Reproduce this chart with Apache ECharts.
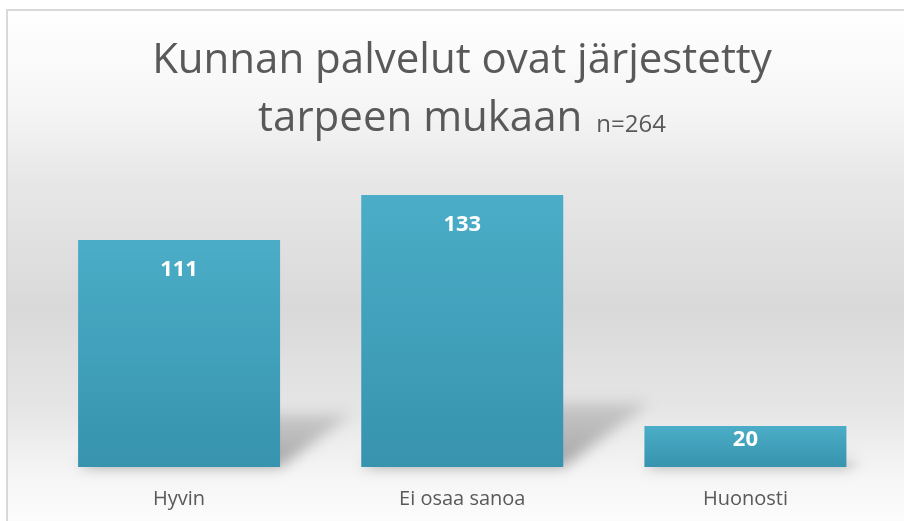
<!DOCTYPE html>
<html>
<head>
<meta charset="utf-8">
<script src="https://cdn.jsdelivr.net/npm/echarts@6/dist/echarts.min.js"></script>
<style>html,body{margin:0;padding:0;background:#fff;}#c{width:904px;height:521px;}</style>
</head>
<body>
<div id="c"></div>
<script>
const titleMain = 'Kunnan palvelut ovat järjestetty\ntarpeen mukaan';
const titleNote = 'n=264';
const categories = ['Hyvin', 'Ei osaa sanoa', 'Huonosti'];
const values = [111, 133, 20];

const chart = echarts.init(document.getElementById('c'), null, {renderer: 'canvas'});
const FONT = '"Open Sans", "Noto Sans", sans-serif';
const BAR_W = 202;
const SHIFT = 3000;

const option = {
  animation: false,
  graphic: [{
    type: 'rect',
    z: -10,
    shape: {x: 7, y: 10, width: 910, height: 520},
    style: {
      stroke: '#d9d9d9', lineWidth: 2,
      fill: new echarts.graphic.LinearGradient(0, 0, 0, 1, [
        {offset: 0, color: '#ffffff'},
        {offset: 0.18, color: '#f6f6f6'},
        {offset: 0.33, color: '#e7e7e7'},
        {offset: 0.57, color: '#d9d9d9'},
        {offset: 0.76, color: '#e5e5e5'},
        {offset: 0.9, color: '#f6f6f6'},
        {offset: 1, color: '#fdfdfd'}
      ])
    }
  }],
  title: {
    text: titleMain + '{n|' + titleNote + '}',
    left: 462,
    top: 32,
    textAlign: 'center',
    padding: 0,
    textStyle: {
      fontFamily: FONT, fontSize: 42, fontWeight: 'normal', color: '#595959', lineHeight: 58,
      rich: {n: {fontFamily: FONT, fontSize: 24, color: '#595959', lineHeight: 56, padding: [12, 0, 0, 14]}}
    }
  },
  grid: {left: 37.5, right: 17, top: 195, bottom: 54, containLabel: false},
  xAxis: {
    type: 'category',
    data: categories,
    axisLine: {show: false},
    axisTick: {show: false},
    axisLabel: {fontFamily: FONT, fontSize: 20, color: '#595959', margin: 20, lineHeight: 24}
  },
  yAxis: {
    type: 'value', min: 0, max: 133, show: false,
    splitLine: {show: false}
  },
  series: [{
    type: 'custom',
    z: 1,
    silent: true,
    data: values.map((v, i) => [i, v]),
    encode: {x: 0, y: 1},
    renderItem: function (params, api) {
      const i = api.value(0), v = api.value(1);
      const b = api.coord([i, 0]);
      const t = api.coord([i, v]);
      const h = b[1] - t[1];
      const xL = b[0] - BAR_W / 2, xR = b[0] + BAR_W / 2, y0 = b[1];
      const dx = 0.32 * h, dy = 0.24 * h;
      return {
        type: 'polygon',
        shape: {points: [[xL - SHIFT, y0], [xR - SHIFT, y0], [xR + dx - SHIFT, y0 - dy], [xL + dx - SHIFT, y0 - dy]]},
        style: {
          fill: new echarts.graphic.LinearGradient(0, 1, 0, 0, [
            {offset: 0, color: 'rgba(0,0,0,0.32)'},
            {offset: 1, color: 'rgba(0,0,0,0.12)'}
          ]),
          shadowColor: 'rgba(0,0,0,1)',
          shadowBlur: 14,
          shadowOffsetX: SHIFT,
          shadowOffsetY: 0
        }
      };
    }
  }, {
    type: 'bar',
    z: 2,
    barWidth: BAR_W,
    data: values.map(v => ({value: v, label: {distance: v < 40 ? 3 : 19}})),
    itemStyle: {
      color: new echarts.graphic.LinearGradient(0, 0, 0, 1, [
        {offset: 0, color: '#4badc7'},
        {offset: 1, color: '#3793ae'}
      ])
    },
    label: {
      show: true, position: 'insideTop',
      fontFamily: FONT, fontSize: 22, fontWeight: 'bold', color: '#ffffff', lineHeight: 22
    }
  }]
};
chart.setOption(option);
</script>
</body>
</html>
